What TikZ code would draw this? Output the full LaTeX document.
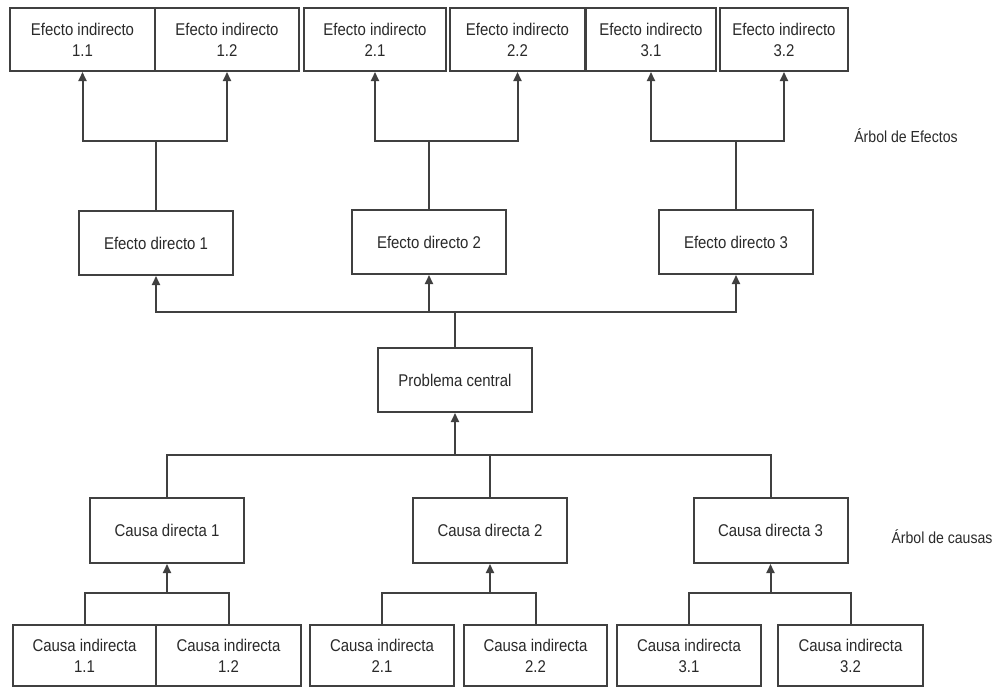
\documentclass[tikz,border=0pt]{standalone}
\usepackage{fontspec}
\setmainfont[FakeStretch=0.88]{Liberation Sans}
\usetikzlibrary{arrows.meta}
\definecolor{linec}{HTML}{404040}
\definecolor{textc}{HTML}{2A2A2A}
\begin{document}
\begin{tikzpicture}[x=1pt,y=-1pt,
  box/.style={draw=linec,line width=2pt,fill=white,inner sep=0pt,align=center,
    text=textc,font=\fontsize{17}{21}\selectfont},
  topbox/.style={box,minimum height=63pt},
  dirbox/.style={box,minimum width=154pt,minimum height=64pt},
  lbl/.style={text=textc,font=\fontsize{16}{19}\selectfont,inner sep=0pt},
  conn/.style={draw=linec,line width=2pt},
  arr/.style={conn,-{Triangle[length=9pt,width=8pt]}}]
\useasboundingbox (0,0) rectangle (1005,688);
% top row
\node[topbox,minimum width=145pt] (ei11) at (82.5,39.5) {Efecto indirecto\\1.1};
\node[topbox,minimum width=144pt] (ei12) at (227,39.5) {Efecto indirecto\\1.2};
\node[topbox,minimum width=142pt] (ei21) at (375,39.5) {Efecto indirecto\\2.1};
\node[topbox,minimum width=135pt] (ei22) at (517.5,39.5) {Efecto indirecto\\2.2};
\node[topbox,minimum width=130pt] (ei31) at (651,39.5) {Efecto indirecto\\3.1};
\node[topbox,minimum width=128pt] (ei32) at (784,39.5) {Efecto indirecto\\3.2};
% direct effects
\node[dirbox] (ed1) at (156,243) {Efecto directo 1};
\node[dirbox] (ed2) at (429,242) {Efecto directo 2};
\node[dirbox] (ed3) at (736,242) {Efecto directo 3};
% central problem
\node[dirbox] (pc) at (455,380) {Problema central};
% direct causes
\node[dirbox,minimum height=65pt] (cd1) at (167,530.5) {Causa directa 1};
\node[dirbox,minimum height=65pt] (cd2) at (490,530.5) {Causa directa 2};
\node[dirbox,minimum height=65pt] (cd3) at (770.5,530.5) {Causa directa 3};
% indirect causes
\node[box,minimum width=143pt,minimum height=61pt] (ci11) at (84.5,655.5) {Causa indirecta\\1.1};
\node[box,minimum width=145pt,minimum height=61pt] (ci12) at (228.5,655.5) {Causa indirecta\\1.2};
\node[box,minimum width=144pt,minimum height=61pt] (ci21) at (382,655.5) {Causa indirecta\\2.1};
\node[box,minimum width=143pt,minimum height=61pt] (ci22) at (535.5,655.5) {Causa indirecta\\2.2};
\node[box,minimum width=144pt,minimum height=61pt] (ci31) at (689,655.5) {Causa indirecta\\3.1};
\node[box,minimum width=145pt,minimum height=61pt] (ci32) at (850.5,655.5) {Causa indirecta\\3.2};
% labels
\node[lbl] (lef) at (906,136) {Árbol de Efectos};
\node[lbl] (lca) at (942,537) {Árbol de causas};
% effect connectors
\coordinate (je1) at (156,141);
\coordinate (je2) at (429,141);
\coordinate (je3) at (736,141);
\draw[conn] (ed1.north) -- (je1);
\draw[conn] (ed2.north) -- (je2);
\draw[conn] (ed3.north) -- (je3);
\draw[arr] (je1) -| (ei11.south);
\draw[arr] (je1) -| (ei12.south);
\draw[arr] (je2) -| (ei21.south);
\draw[arr] (je2) -| (ei22.south);
\draw[arr] (je3) -| (ei31.south);
\draw[arr] (je3) -| (ei32.south);
\coordinate (jp) at (455,312);
\draw[conn] (pc.north) -- (jp);
\draw[arr] (jp) -| (ed1.south);
\draw[arr] (jp) -| (ed2.south);
\draw[arr] (jp) -| (ed3.south);
% cause connectors
\coordinate (jc) at (455,455);
\draw[arr] (jc) -- (pc.south);
\draw[conn] (jc) -| (cd1.north);
\draw[conn] (jc) -| (cd2.north);
\draw[conn] (jc) -| (cd3.north);
\coordinate (jd1) at (167,593);
\coordinate (jd2) at (490,593);
\coordinate (jd3) at (770.5,593);
\draw[arr] (jd1) -- (cd1.south);
\draw[arr] (jd2) -- (cd2.south);
\draw[arr] (jd3) -- (cd3.south);
\draw[conn] (jd1) -| (ci11.north);
\draw[conn] (jd1) -| (ci12.north);
\draw[conn] (jd2) -| (ci21.north);
\draw[conn] (jd2) -| (ci22.north);
\draw[conn] (jd3) -| (ci31.north);
\draw[conn] (jd3) -| (ci32.north);
\end{tikzpicture}
\end{document}
